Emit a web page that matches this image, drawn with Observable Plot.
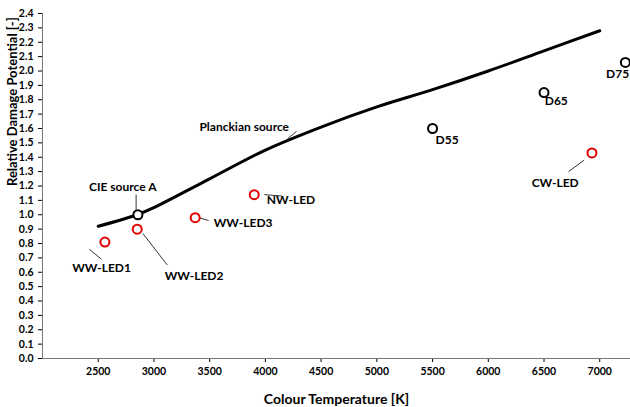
<!DOCTYPE html>
<html><head><meta charset="utf-8">
<script src="https://cdn.jsdelivr.net/npm/d3@7"></script>
<script src="https://cdn.jsdelivr.net/npm/@observablehq/plot@0.6"></script>
<style>body{margin:0;background:#fff;overflow:hidden}</style>
</head><body><div id="chart"></div>
<script>
const planckT = [2500, 2850, 3000, 3500, 4000, 4500, 5000, 5500, 6000, 6500, 7000];
const planckV = [0.92, 1.0, 1.05, 1.25, 1.45, 1.61, 1.75, 1.87, 2.0, 2.14, 2.28];
const srcNames = ["CIE source A", "D55", "D65", "D75"];
const srcT = [2856, 5500, 6500, 7230];
const srcV = [1.0, 1.6, 1.85, 2.06];
const ledNames = ["WW-LED1", "WW-LED2", "WW-LED3", "NW-LED", "CW-LED"];
const ledT = [2560, 2850, 3370, 3900, 6930];
const ledV = [0.81, 0.90, 0.98, 1.14, 1.43];
const labels = [
  {t: "Planckian source", x: 3810, y: 1.61},
  {t: "CIE source A", x: 2720, y: 1.19},
  {t: "NW-LED", x: 4230, y: 1.10},
  {t: "WW-LED3", x: 3800, y: 0.94},
  {t: "WW-LED1", x: 2530, y: 0.63},
  {t: "WW-LED2", x: 3360, y: 0.57},
  {t: "D55", x: 5630, y: 1.52},
  {t: "D65", x: 6610, y: 1.79},
  {t: "D75", x: 7160, y: 1.98},
  {t: "CW-LED", x: 6600, y: 1.22}
];
const leaders = [
  {x1: 4280, y1: 1.58, x2: 4200, y2: 1.53},
  {x1: 2840, y1: 1.14, x2: 2840, y2: 1.03},
  {x1: 4150, y1: 1.13, x2: 3990, y2: 1.14},
  {x1: 3400, y1: 0.98, x2: 3490, y2: 0.96},
  {x1: 2420, y1: 0.76, x2: 2530, y2: 0.69},
  {x1: 2900, y1: 0.87, x2: 3120, y2: 0.65},
  {x1: 6720, y1: 1.3, x2: 6860, y2: 1.38}
];
const planck = planckT.map((t, i) => ({t, v: planckV[i]}));
const srcs = srcT.map((t, i) => ({t, v: srcV[i], n: srcNames[i]}));
const leds = ledT.map((t, i) => ({t, v: ledV[i], n: ledNames[i]}));

const chart = Plot.plot({
  width: 630, height: 407,
  marginLeft: 42, marginRight: 0, marginTop: 13, marginBottom: 49,
  style: {fontFamily: "Lato, sans-serif", fontSize: "10.5px", fontWeight: "bold", color: "#000"},
  x: {domain: [2000, 7276], ticks: d3.range(2500, 7001, 500), tickFormat: d3.format("d"), label: null, tickSize: 4},
  y: {domain: [0, 2.4], ticks: d3.range(0, 2.41, 0.1), tickFormat: d3.format(".1f"), label: null, tickSize: 4},
  marks: [
    Plot.ruleX([2000], {stroke: "#777"}),
    Plot.ruleY([0], {stroke: "#777"}),
    Plot.line(planck, {x: "t", y: "v", stroke: "#000", strokeWidth: 3, curve: "catmull-rom"}),
    Plot.link(leaders, {x1: "x1", y1: "y1", x2: "x2", y2: "y2", stroke: "#000", strokeWidth: 0.8}),
    Plot.dot(srcs, {x: "t", y: "v", r: 4.5, stroke: "#000", strokeWidth: 2, fill: "#fff"}),
    Plot.dot(leds, {x: "t", y: "v", r: 4.5, stroke: "#e00000", strokeWidth: 2, fill: "#fff"}),
    Plot.text(labels, {x: "x", y: "y", text: "t", fontSize: 12, fontWeight: "bold"}),
    Plot.text(["Colour Temperature [K]"], {frameAnchor: "bottom", dy: 45, fontSize: 14, fontWeight: "bold"}),
    Plot.text(["Relative Damage Potential [-]"], {frameAnchor: "left", dx: -30, rotate: -90, fontSize: 13, fontWeight: "bold"})
  ]
});
document.getElementById("chart").appendChild(chart);
</script></body></html>
